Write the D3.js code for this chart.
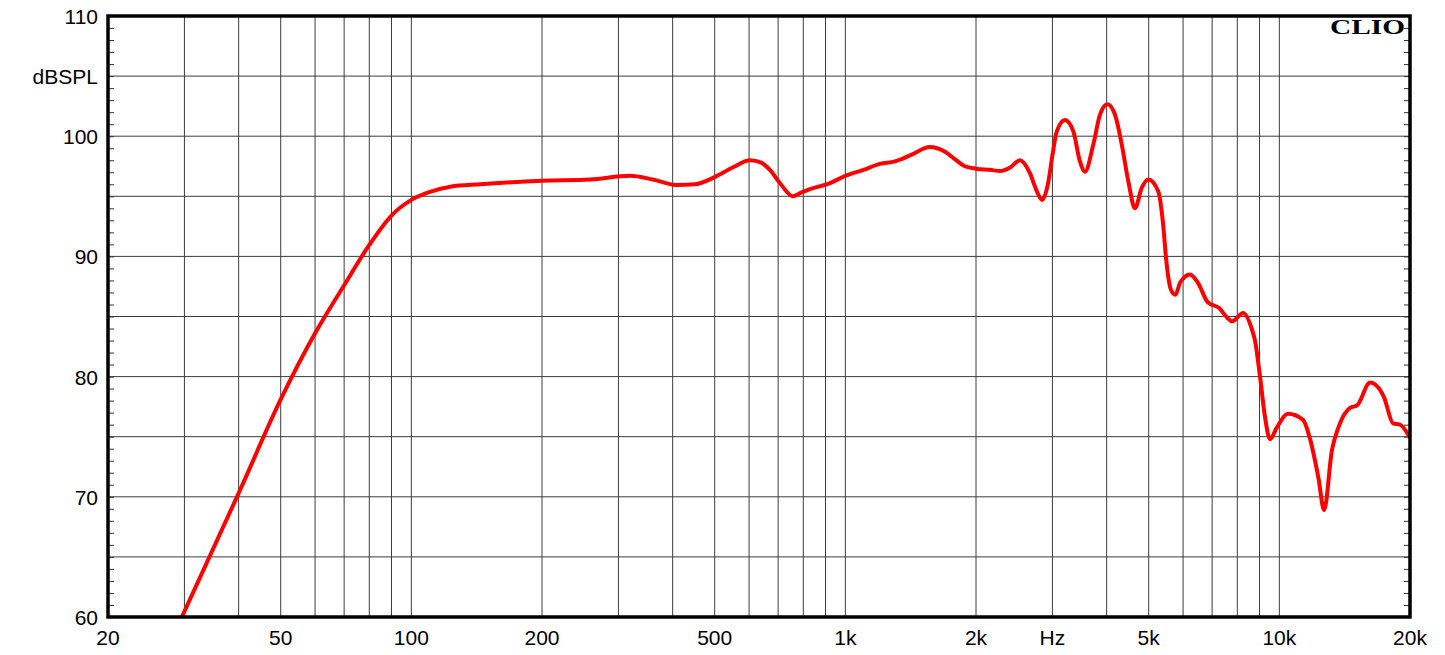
<!DOCTYPE html>
<html>
<head>
<meta charset="utf-8">
<script src="https://cdn.jsdelivr.net/npm/d3@7"></script>
<style>
  body { margin: 0; background: #fff; }
  svg { display: block; }
</style>
</head>
<body>
<div id="chart"></div>
<script>
// frequency response (Hz, dB SPL)
var freqs = [29.6, 40, 50, 60, 70, 80, 90, 100, 110, 123, 144, 200, 258, 319, 360, 407, 450, 500,
  550, 603, 640, 670, 710, 757, 790, 829, 922, 1000, 1100, 1202, 1300, 1409, 1566, 1697, 1800, 1886,
  2000, 2155, 2272, 2396, 2526, 2664, 2749, 2839, 2936, 3000, 3070, 3207, 3352, 3472, 3566, 3726,
  3862, 4016, 4180, 4334, 4490, 4648, 4818, 4990, 5261, 5403, 5487, 5630, 5760, 5905, 6226, 6493,
  6835, 7265, 7585, 7778, 8252, 8650, 8788, 9025, 9270, 9516, 9878, 10470, 11340, 11770, 12300,
  12680, 13220, 13690, 14550, 15100, 16180, 17420, 18280, 18960, 20000]
var spl = [60, 70.3, 78.1, 83.6, 87.6, 90.95, 93.4, 94.7, 95.35, 95.8, 96.0, 96.3, 96.4, 96.7, 96.4, 95.95, 96.0, 96.6,
  97.4, 98.0, 97.8, 97.2, 96.0, 95.0, 95.3, 95.6, 96.1, 96.7, 97.2, 97.7, 97.9, 98.4, 99.1, 98.7, 98.0, 97.5,
  97.3, 97.2, 97.1, 97.4, 98.0, 96.9, 95.6, 94.7, 96.2, 98.4, 100.4, 101.35, 100.4, 97.9, 97.05, 99.3,
  101.8, 102.65, 101.8, 99.3, 96.2, 94.0, 95.7, 96.4, 95.4, 92.5, 89.7, 87.2, 86.8, 87.8, 88.5, 87.8,
  86.2, 85.7, 84.9, 84.6, 85.3, 83.9, 83.0, 80.0, 76.6, 74.8, 75.8, 76.9, 76.4, 74.8, 71.6,
  68.9, 73.9, 75.8, 77.4, 77.6, 79.5, 78.3, 76.1, 76.0, 74.9]

var xTickValues = [20, 50, 100, 200, 500, 1000, 2000, 3000, 5000, 10000, 20000]
var xTickLabels = ["20", "50", "100", "200", "500", "1k", "2k", "Hz", "5k", "10k", "20k"]
var xGridValues = [30, 40, 50, 60, 70, 80, 90, 100, 200, 300, 400, 500, 600, 700, 800, 900,
  1000, 2000, 3000, 4000, 5000, 6000, 7000, 8000, 9000, 10000]
var yTickValues = [110, 105, 100, 90, 80, 70, 60]
var yTickLabels = ["110", "dBSPL", "100", "90", "80", "70", "60"]
var yGridValues = [65, 70, 75, 80, 85, 90, 95, 100, 105]

var width = 1445, height = 655
var margin = {top: 16, right: 35, bottom: 38, left: 108}
var w = width - margin.left - margin.right
var h = height - margin.top - margin.bottom

var svg = d3.select("#chart").append("svg")
  .attr("width", width)
  .attr("height", height)
  .style("font-family", "'Liberation Sans', Arial, sans-serif")
var g = svg.append("g").attr("transform", `translate(${margin.left},${margin.top})`)

var x = d3.scaleLog().domain([20, 20000]).range([0, w])
var y = d3.scaleLinear().domain([60, 110]).range([h, 0])

// grid
g.append("g").selectAll("line")
  .data(xGridValues)
  .enter().append("line")
  .attr("x1", d => x(d)).attr("x2", d => x(d))
  .attr("y1", 0).attr("y2", h)
  .attr("stroke", "#3c3c3c").attr("stroke-width", 1)
g.append("g").selectAll("line")
  .data(yGridValues)
  .enter().append("line")
  .attr("x1", 0).attr("x2", w)
  .attr("y1", d => y(d)).attr("y2", d => y(d))
  .attr("stroke", "#3c3c3c").attr("stroke-width", 1)

// minor 1 dB ticks inside left and right frame
var minor = d3.range(61, 110)
g.append("g")
  .call(d3.axisLeft(y).tickValues(minor).tickSize(-6).tickFormat(""))
  .call(a => a.select(".domain").remove())
  .selectAll("line").attr("stroke", "#333")
g.append("g").attr("transform", `translate(${w},0)`)
  .call(d3.axisRight(y).tickValues(minor).tickSize(-6).tickFormat(""))
  .call(a => a.select(".domain").remove())
  .selectAll("line").attr("stroke", "#333")

// curve
var line = d3.line()
  .x((d, i) => x(freqs[i]))
  .y(d => y(d))
  .curve(d3.curveMonotoneX)
g.append("path")
  .datum(spl)
  .attr("d", line)
  .attr("fill", "none")
  .attr("stroke", "#ff0000")
  .attr("stroke-width", 4)
  .attr("stroke-linejoin", "round")

// frame
g.append("rect")
  .attr("x", 0).attr("y", 0).attr("width", w).attr("height", h)
  .attr("fill", "none").attr("stroke", "#000").attr("stroke-width", 3.5)

// labels
g.append("g").selectAll("text")
  .data(xTickValues)
  .enter().append("text")
  .attr("x", d => x(d))
  .attr("y", h + 28)
  .attr("text-anchor", "middle")
  .style("font-size", "21px")
  .text((d, i) => xTickLabels[i])

g.append("g").selectAll("text")
  .data(yTickValues)
  .enter().append("text")
  .attr("x", -10)
  .attr("y", d => y(d) + 8)
  .attr("text-anchor", "end")
  .style("font-size", "21px")
  .text((d, i) => yTickLabels[i])

g.append("text")
  .attr("x", w - 80).attr("y", 18)
  .attr("textLength", 75).attr("lengthAdjust", "spacingAndGlyphs")
  .style("font-family", "'Liberation Serif', 'Times New Roman', serif")
  .style("font-weight", "bold")
  .style("font-size", "20px")
  .text("CLIO")
</script>
</body>
</html>
